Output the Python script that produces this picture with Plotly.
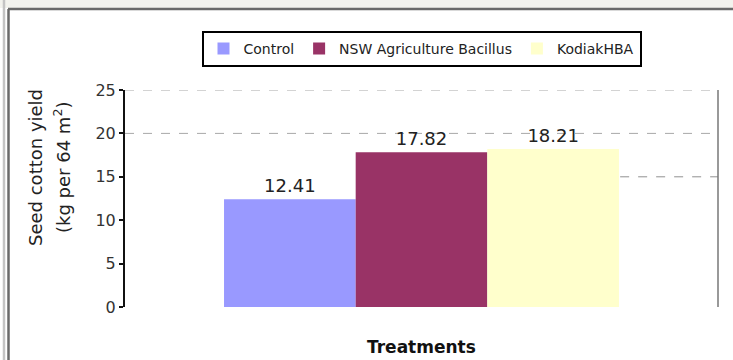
import plotly.graph_objects as go

# ---- data ----
series_names = ["Control", "NSW Agriculture Bacillus", "KodiakHBA"]
series_values = [12.41, 17.82, 18.21]
series_colors = ["#9999ff", "#993366", "#ffffcc"]
category = ["Treatments"]
y_ticks = [0, 5, 10, 15, 20, 25]
y_tick_labels = ["0", "5", "10", "15", "20", "25"]
grid_full = [20, 25]
grid_partial = [15]

# plot area geometry (pixels)
W, H = 733, 360
L, R, T, B = 125, 15, 90, 53

fig = go.Figure()
for name, val, col in zip(series_names, series_values, series_colors):
    fig.add_trace(go.Bar(
        x=category, y=[val], name=name,
        marker=dict(color=col, line=dict(width=0)),
        text=[f"{val:.2f}"], textposition="outside",
        textfont=dict(family="DejaVu Sans", size=18, color="#222222"),
        cliponaxis=False,
    ))

pw = W - L - R
ph = H - T - B
def px_x(p):
    return (p - L) / pw
def px_y(p):
    return (H - B - p) / ph

shapes = []
for g in grid_full:
    shapes.append(dict(type="line", xref="paper", yref="y", x0=0, x1=1, y0=g, y1=g,
                       line=dict(color="#a8a8a8", width=1, dash="dash"), layer="below"))
for g in grid_partial:
    shapes.append(dict(type="line", xref="paper", yref="y", x0=0.835, x1=1, y0=g, y1=g,
                       line=dict(color="#909090", width=1, dash="dash"), layer="below"))
# right border of plot area
shapes.append(dict(type="line", xref="paper", yref="y", x0=1, x1=1, y0=0, y1=25,
                   line=dict(color="#777777", width=1.5)))
# outer frame
shapes.append(dict(type="rect", xref="paper", yref="paper", x0=px_x(0), x1=px_x(W),
                   y0=px_y(0), y1=px_y(8), fillcolor="#f3f3ee", line=dict(width=0), layer="below"))
shapes.append(dict(type="line", xref="paper", yref="paper", x0=px_x(8), x1=px_x(W),
                   y0=px_y(9), y1=px_y(9), line=dict(color="#6a6a6a", width=2.5)))
shapes.append(dict(type="line", xref="paper", yref="paper", x0=px_x(8.5), x1=px_x(8.5),
                   y0=px_y(9), y1=px_y(H), line=dict(color="#6a6a6a", width=2.5)))
shapes.append(dict(type="line", xref="paper", yref="paper", x0=px_x(4), x1=px_x(4),
                   y0=px_y(0), y1=px_y(H), line=dict(color="#c4c4c4", width=2.5)))

annotations = [
    dict(text="Seed cotton yield", xref="paper", yref="paper", x=px_x(35), y=px_y(168),
         xanchor="center", yanchor="middle", textangle=-90, showarrow=False,
         font=dict(family="DejaVu Sans", size=18, color="#222222")),
    dict(text="(kg per 64 m<sup>2</sup>)", xref="paper", yref="paper", x=px_x(62), y=px_y(168),
         xanchor="center", yanchor="middle", textangle=-90, showarrow=False,
         font=dict(family="DejaVu Sans", size=18, color="#222222")),
    dict(text="<b>Treatments</b>", xref="paper", yref="paper", x=0.5, y=px_y(347),
         xanchor="center", yanchor="middle", showarrow=False,
         font=dict(family="DejaVu Sans", size=17, color="#111111")),
]

fig.update_layout(
    width=W, height=H,
    margin=dict(l=L, r=R, t=T, b=B, autoexpand=False),
    paper_bgcolor="white", plot_bgcolor="white",
    barmode="group", bargap=0.334, bargroupgap=0,
    showlegend=True,
    legend=dict(orientation="h", x=0.5, xanchor="center", y=px_y(31), yanchor="top",
                bordercolor="#000000", borderwidth=2, bgcolor="white",
                font=dict(family="DejaVu Sans", size=14, color="#222222"),
                itemwidth=30, tracegroupgap=0),
    xaxis=dict(showticklabels=False, showline=False, showgrid=False, ticks="", zeroline=False,
               range=[-0.5, 0.5]),
    yaxis=dict(range=[0, 25], tickvals=y_ticks, ticktext=y_tick_labels,
               showline=True, linecolor="#111111", linewidth=2,
               ticks="outside", ticklen=4, tickcolor="#111111", tickwidth=2,
               showgrid=False, zeroline=False,
               tickfont=dict(family="DejaVu Sans", size=16, color="#333333")),
    shapes=shapes,
    annotations=annotations,
)

fig.write_html("out.html")
